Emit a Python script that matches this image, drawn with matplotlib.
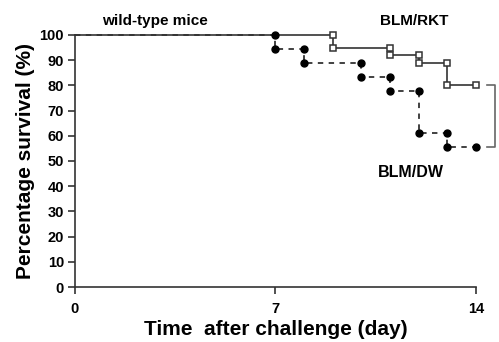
import numpy as np
import matplotlib.pyplot as plt

plt.rcParams['font.family'] = ['Liberation Sans', 'DejaVu Sans']
plt.rcParams['font.weight'] = 'bold'

# BLM/RKT (solid, open squares)
rkt_days = [9, 11, 12, 13]
rkt_surv = [94.8, 92.0, 88.9, 80.3]
# BLM/DW (dashed, filled circles)
dw_days = [7, 8, 10, 11, 12, 13]
dw_surv = [94.4, 88.9, 83.3, 77.8, 61.1, 55.6]
end_day = 14

x_ticks = [0, 7, 14]
y_ticks = list(range(0, 101, 10))


def step_xy(days, surv, end):
    xs, ys = [0], [100]
    prev = 100
    for d, s in zip(days, surv):
        xs += [d, d]
        ys += [prev, s]
        prev = s
    xs.append(end)
    ys.append(prev)
    return xs, ys


fig = plt.figure(figsize=(4.99, 3.42), dpi=100)
ax = fig.add_axes([0.1503, 0.1608, 0.8036, 0.7369])

col = '#333333'
xs, ys = step_xy(dw_days, dw_surv, end_day)
ax.plot(xs, ys, color=col, lw=1.3, ls=(0, (3, 3)), clip_on=False, zorder=2)
ax.plot(xs[1:], ys[1:], ls='none', marker='o', ms=5, color='black',
        clip_on=False, zorder=4)

xs, ys = step_xy(rkt_days, rkt_surv, end_day)
ax.plot(xs, ys, color=col, lw=1.2, clip_on=False, zorder=3)
ax.plot(xs[1:], ys[1:], ls='none', marker='s', ms=5, mfc='white',
        mec=col, mew=1.1, clip_on=False, zorder=5)

# bracket on the right
bx0, bx1 = 14.38, 14.66
ax.plot([bx0, bx1, bx1, bx0], [rkt_surv[-1], rkt_surv[-1], dw_surv[-1], dw_surv[-1]],
        color='#666666', lw=1.2, clip_on=False)

ax.set_xlim(0, 14)
ax.set_ylim(0, 100)
ax.set_xticks(x_ticks)
ax.set_yticks(y_ticks)
ax.spines['top'].set_visible(False)
ax.spines['right'].set_visible(False)
for s in ['left', 'bottom']:
    ax.spines[s].set_linewidth(1.2)
    ax.spines[s].set_color(col)
ax.tick_params(direction='out', length=5, width=1.2, color=col, labelsize=10.5)
ax.tick_params(axis='x', pad=6)
ax.tick_params(axis='y', pad=3)
for lab in ax.get_xticklabels() + ax.get_yticklabels():
    lab.set_fontweight('bold')

ax.set_xlabel('Time  after challenge (day)', fontsize=15, fontweight='bold', labelpad=3)
ax.set_ylabel('Percentage survival (%)', fontsize=15, fontweight='bold', labelpad=3)

ax.text(0.067, 1.056, 'wild-type mice', transform=ax.transAxes, fontsize=11,
        fontweight='bold', va='center')
ax.text(0.76, 1.056, 'BLM/RKT', transform=ax.transAxes, fontsize=11,
        fontweight='bold', va='center')
ax.text(11.73, 45.5, 'BLM/DW', fontsize=11.5, fontweight='bold', ha='center', va='center')

fig.savefig('out.png', dpi=100)
